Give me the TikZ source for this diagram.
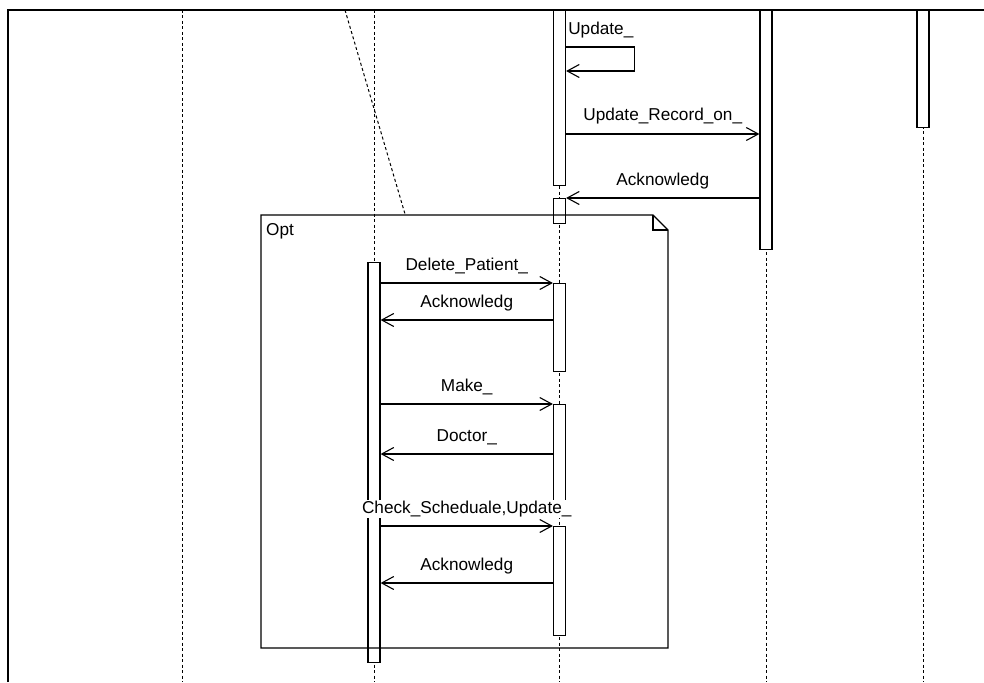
\documentclass[tikz,border=0pt]{standalone}
\usepackage{fontspec}
\setmainfont{Liberation Sans}
\usetikzlibrary{arrows.meta, positioning, calc}

\begin{document}
\begin{tikzpicture}[x=1pt, y=-1pt, >={Straight Barb[length=12pt, width=13pt]},
        font=\fontsize{17.2}{20}\selectfont,
        lifeline/.style={dash pattern=on 3pt off 2.5pt, line width=1pt},
        actbar/.style={draw, fill=white, line width=1.2pt, minimum width=12pt, inner sep=0pt, anchor=north},
        msg/.style={->, line width=1.1pt},
        msglabel/.style={fill=white, inner sep=1pt, anchor=base, yshift=13pt}]
        \useasboundingbox (0,0) rectangle (984,682);

        % Lifelines
        \foreach \x in {182,374,559.5,766,923}
            \draw [lifeline] (\x,10) -- (\x,682);
        \coordinate (noteTop) at (345,10);
        \coordinate (noteEnd) at (405,214);
        \draw [lifeline] (noteTop) -- (noteEnd);

        % Activation bars
        \node [actbar, minimum height=400pt] (userBar) at (374,262) {};
        \node [actbar, minimum height=175pt] (sysA) at (559.5,10) {};
        \node [actbar, minimum height=25pt] (sysB) at (559.5,198) {};
        \node [actbar, minimum height=88pt] (sysC) at (559.5,283) {};
        \node [actbar, minimum height=106pt] (sysD) at (559.5,404) {};
        \node [actbar, minimum height=109pt] (sysE) at (559.5,526) {};
        \node [actbar, minimum height=239pt] (dbBar) at (766,10) {};
        \node [actbar, minimum height=117pt] (logBar) at (923,10) {};

        % Opt fragment
        \coordinate (optNW) at (261,215);
        \coordinate (optSE) at (668,648);
        \draw [line width=1.1pt] (optNW) -- (653,215) -- (668,230) -- (optSE) -- (optNW |- optSE) -- cycle;
        \draw [line width=1.1pt] (653,215) -- (653,230) -- (668,230);
        \node [anchor=base west, inner sep=0pt] (optLbl) at (266,235) {Opt};

        % Messages
        \draw [msg] ([yshift=-37pt]sysA.north east) -- ++(68,0) -- ++(0,24) -- ++(-68,0);
        \node [anchor=base west, inner sep=0pt] (updLbl) at ([xshift=2pt, yshift=-25pt]sysA.north east) {Update\_};
        \coordinate (recS) at ([yshift=-124pt]sysA.north east);
        \draw [msg] (recS) -- (recS -| dbBar.west) node[msglabel, midway] {Update\_Record\_on\_};
        \draw [msg] (dbBar.west |- sysB.north) -- (sysB.north east) node[msglabel, midway] {Acknowledg};

        \draw [msg] (userBar.east |- sysC.north) -- (sysC.north west) node[msglabel, midway] {Delete\_Patient\_};
        \coordinate (ackA) at ([yshift=-37pt]sysC.north west);
        \draw [msg] (ackA) -- (ackA -| userBar.east) node[msglabel, midway] {Acknowledg};

        \draw [msg] (userBar.east |- sysD.north) -- (sysD.north west) node[msglabel, midway] {Make\_};
        \coordinate (docA) at ([yshift=-50pt]sysD.north west);
        \draw [msg] (docA) -- (docA -| userBar.east) node[msglabel, midway] {Doctor\_};

        \draw [msg] (userBar.east |- sysE.north) -- (sysE.north west) node[msglabel, midway] {Check\_Scheduale,Update\_};
        \coordinate (ackB) at ([yshift=-57pt]sysE.north west);
        \draw [msg] (ackB) -- (ackB -| userBar.east) node[msglabel, midway] {Acknowledg};

        % Frame
        \draw [line width=2.5pt] (8,682) -- (8,10) -- (984,10);
    \end{tikzpicture}
\end{document}
